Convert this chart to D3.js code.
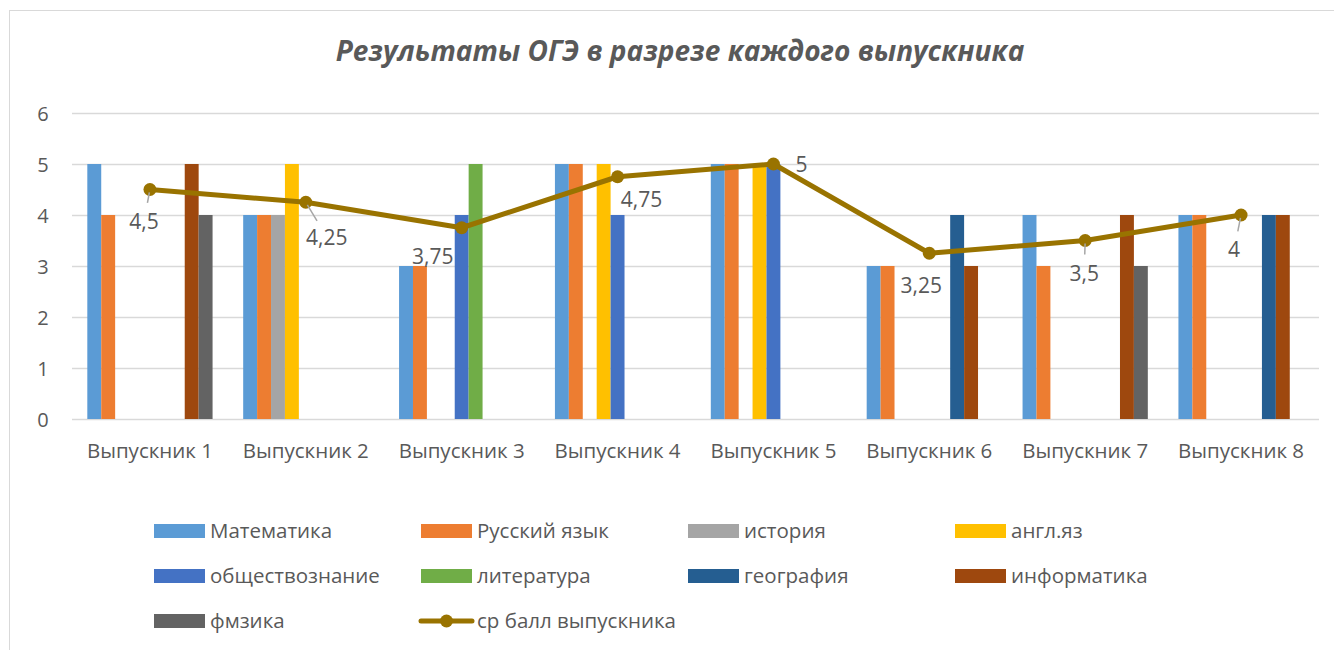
<!DOCTYPE html>
<html>
<head>
<meta charset="utf-8">
<script src="https://cdn.jsdelivr.net/npm/d3@7"></script>
<style>
  body { margin: 0; background: #fff; }
  text { font-family: "Open Sans", sans-serif; fill: #595959; }
</style>
</head>
<body>
<div id="chart-area"></div>
<script>
// categories
const graduates = ["Выпускник 1", "Выпускник 2", "Выпускник 3", "Выпускник 4",
                   "Выпускник 5", "Выпускник 6", "Выпускник 7", "Выпускник 8"];

// one array per subject (null = no exam)
const math        = [5, 4, 3, 5, 5, 3, 4, 4];
const russian     = [4, 4, 3, 5, 5, 3, 3, 4];
const history     = [null, 4, null, null, null, null, null, null];
const english     = [null, 5, null, 5, 5, null, null, null];
const social      = [null, null, 4, 4, 5, null, null, null];
const literature  = [null, null, 5, null, null, null, null, null];
const geography   = [null, null, null, null, null, 4, null, 4];
const informatics = [5, null, null, null, null, 3, 4, 4];
const physics     = [4, null, null, null, null, null, 3, null];

// average per graduate
const average = [4.5, 4.25, 3.75, 4.75, 5, 3.25, 3.5, 4];
const averageLabels = ["4,5", "4,25", "3,75", "4,75", "5", "3,25", "3,5", "4"];

const yTicks = [0, 1, 2, 3, 4, 5, 6];

const seriesNames = ["Математика", "Русский язык", "история", "англ.яз", "обществознание",
                     "литература", "география", "информатика", "фмзика"];
const seriesValues = [math, russian, history, english, social, literature, geography, informatics, physics];
const colors = ["#5B9BD5", "#ED7D31", "#A5A5A5", "#FFC000", "#4472C4",
                "#70AD47", "#255E91", "#9E480E", "#636363"];
const lineName = "ср балл выпускника";
const lineColor = "#997300";

// label placement (offset of label centre from point) + whether a leader line is drawn
const labelOffsets = [[-6, 32, true], [21, 35, true], [-29, 29, false], [24, 23, false],
                      [28, 1, false], [-8, 32, false], [-1, 33, true], [-7, 35, true]];

const W = 1334, H = 650;
const plot = {left: 72, right: 1319, top: 113, bottom: 419};

const svg = d3.select('#chart-area')
  .append('svg')
  .attr('width', W)
  .attr('height', H);

// chart frame
svg.append('rect')
  .attr('x', 9.5).attr('y', 10.5)
  .attr('width', W + 20).attr('height', H + 20)
  .attr('fill', '#fff')
  .attr('stroke', '#d9d9d9');

// title
svg.append('text')
  .attr('x', 680).attr('y', 61)
  .attr('text-anchor', 'middle')
  .style('font-size', '28px')
  .style('font-weight', 'bold')
  .style('font-style', 'italic')
  .text('Результаты ОГЭ в разрезе каждого выпускника');

//scales
const x0 = d3.scaleBand()
  .domain(graduates)
  .range([plot.left, plot.right])
  .padding(0);

const x1 = d3.scaleBand()
  .domain(seriesNames)
  .range([0, x0.bandwidth()])
  .paddingInner(0)
  .paddingOuter(1.1);

const y = d3.scaleLinear()
  .domain([0, 6])
  .range([plot.bottom, plot.top]);

// gridlines
svg.append('g')
  .selectAll('line')
  .data(yTicks)
  .enter().append('line')
  .attr('x1', plot.left).attr('x2', plot.right)
  .attr('y1', d => y(d) + 0.5).attr('y2', d => y(d) + 0.5)
  .attr('stroke', '#d9d9d9')
  .attr('stroke-width', 1.5);

// y axis
const yAxis = d3.axisLeft(y).tickValues(yTicks).tickFormat(d3.format('d')).tickSize(0).tickPadding(0);
const gy = svg.append('g')
  .attr('transform', `translate(43, 0)`)
  .call(yAxis);
gy.select('.domain').remove();
gy.selectAll('text')
  .style('font-size', '20px')
  .attr('text-anchor', 'middle')
  .attr('fill', '#595959')
  .attr('dy', '0.35em');

// x axis
const xAxis = d3.axisBottom(x0).tickSize(0).tickPadding(0);
const gx = svg.append('g')
  .attr('transform', `translate(0, ${plot.bottom})`)
  .call(xAxis);
gx.select('.domain').remove();
gx.selectAll('text')
  .style('font-size', '20.5px')
  .attr('fill', '#595959')
  .attr('y', 32)
  .attr('dy', '0.35em');

// bars
const bars = [];
graduates.forEach((g, i) => {
  seriesValues.forEach((vals, j) => {
    if (vals[i] != null) bars.push({g: g, s: seriesNames[j], v: vals[i], c: colors[j]});
  });
});

svg.append('g')
  .selectAll('rect')
  .data(bars)
  .enter().append('rect')
  .attr('x', d => x0(d.g) + x1(d.s))
  .attr('y', d => y(d.v))
  .attr('width', x1.bandwidth())
  .attr('height', d => plot.bottom - y(d.v))
  .attr('fill', d => d.c);

// average line
const pts = graduates.map((g, i) => ({x: x0(g) + x0.bandwidth() / 2, y: y(average[i]), i: i}));

svg.append('path')
  .datum(pts)
  .attr('fill', 'none')
  .attr('stroke', lineColor)
  .attr('stroke-width', 5)
  .attr('stroke-linejoin', 'round')
  .attr('d', d3.line().x(d => d.x).y(d => d.y));

svg.append('g')
  .selectAll('circle')
  .data(pts)
  .enter().append('circle')
  .attr('cx', d => d.x).attr('cy', d => d.y)
  .attr('r', 6.5)
  .attr('fill', lineColor);

// leader lines + data labels
const lab = svg.append('g');
pts.forEach(p => {
  const [dx, dy, leader] = labelOffsets[p.i];
  if (leader) {
    const len = Math.hypot(dx, dy);
    const ux = dx / len, uy = dy / len;
    lab.append('line')
      .attr('x1', p.x + ux * 3).attr('y1', p.y + uy * 3)
      .attr('x2', p.x + ux * (len - 19)).attr('y2', p.y + uy * (len - 19))
      .attr('stroke', '#a6a6a6')
      .attr('stroke-width', 1.5);
  }
  lab.append('text')
    .attr('x', p.x + dx).attr('y', p.y + dy)
    .attr('dy', '0.35em')
    .attr('text-anchor', 'middle')
    .style('font-size', '21px')
    .attr('fill', '#404040')
    .text(averageLabels[p.i]);
});

// legend
const legendItems = seriesNames.map((n, j) => ({name: n, color: colors[j], line: false}))
  .concat([{name: lineName, color: lineColor, line: true}]);
const colX = [154, 421, 688, 955];
const rowY = [531, 576, 621];

const leg = svg.append('g')
  .selectAll('g')
  .data(legendItems)
  .enter().append('g')
  .attr('transform', (d, i) => `translate(${colX[i % 4]}, ${rowY[Math.floor(i / 4)]})`);

leg.filter(d => !d.line).append('rect')
  .attr('x', 0).attr('y', -7)
  .attr('width', 51).attr('height', 14)
  .attr('fill', d => d.color);

leg.filter(d => d.line).append('line')
  .attr('x1', 0).attr('x2', 51)
  .attr('y1', 0).attr('y2', 0)
  .attr('stroke', d => d.color)
  .attr('stroke-width', 5)
  .attr('stroke-linecap', 'round');

leg.filter(d => d.line).append('circle')
  .attr('cx', 25.5).attr('cy', 0).attr('r', 6.5)
  .attr('fill', d => d.color);

leg.append('text')
  .attr('x', 56).attr('y', 0)
  .attr('dy', '0.35em')
  .style('font-size', '20.5px')
  .text(d => d.name);
</script>
</body>
</html>
